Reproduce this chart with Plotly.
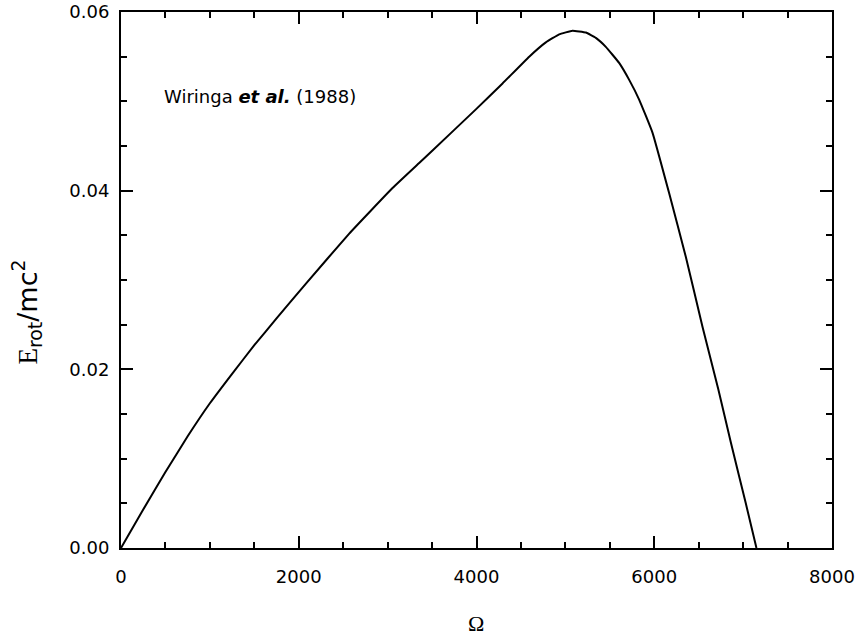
import plotly.graph_objects as go

# Data
omega = [0, 250, 500, 750, 1000, 1250, 1500, 1750, 2081, 2568, 3055, 3355, 3505,
         3993, 4293, 4593, 4780, 4930, 5080, 5231, 5343, 5455, 5605, 5718, 5830,
         5980, 6168, 6355, 6542, 6720, 6862, 7030, 7150]
e_rot = [0.0, 0.0043, 0.0085, 0.0125, 0.0162, 0.0195, 0.0227, 0.0257, 0.0296,
         0.0352, 0.0403, 0.0431, 0.0445, 0.0491, 0.0520, 0.0550, 0.0566, 0.0575,
         0.0579, 0.0577, 0.0571, 0.0561, 0.0543, 0.0524, 0.0502, 0.0465, 0.0397,
         0.0326, 0.0248, 0.0178, 0.0118, 0.0050, 0.0]

x_ticks = [0, 2000, 4000, 6000, 8000]
x_tick_labels = ["0", "2000", "4000", "6000", "8000"]
y_ticks = [0.0, 0.02, 0.04, 0.06]
y_tick_labels = ["0.00", "0.02", "0.04", "0.06"]

fig = go.Figure()
fig.add_trace(go.Scatter(x=omega, y=e_rot, mode="lines",
                         line=dict(color="black", width=2, shape="spline", smoothing=0.3),
                         showlegend=False, hoverinfo="skip"))

tickfont = dict(family="DejaVu Sans", size=18, color="black")
common = dict(showgrid=False, zeroline=False, showline=True, linecolor="black",
              linewidth=2, mirror="allticks", ticks="inside", tickcolor="black",
              tickwidth=2, tickfont=tickfont, automargin=False,
              ticklabeloverflow="allow")

fig.update_xaxes(range=[0, 8000], tickvals=x_ticks, ticktext=x_tick_labels, ticklen=12,
                 minor=dict(dtick=500, ticks="inside", ticklen=6, tickwidth=1.5,
                            tickcolor="black", showgrid=False),
                 ticklabelstandoff=11, **common)
fig.update_yaxes(range=[0, 0.06], tickvals=y_ticks, ticktext=y_tick_labels, ticklen=12,
                 minor=dict(dtick=0.005, ticks="inside", ticklen=6, tickwidth=1.5,
                            tickcolor="black", showgrid=False),
                 ticklabelstandoff=6, **common)

fig.add_annotation(x=0.0577, y=0.843, xref="paper", yref="paper",
                   xanchor="left", yanchor="middle", showarrow=False,
                   text="Wiringa <b><i>et al.</i></b> (1988)",
                   font=dict(family="DejaVu Sans", size=18, color="black"))
fig.add_annotation(x=-0.133, y=0.44, xref="paper", yref="paper",
                   xanchor="center", yanchor="middle", showarrow=False, textangle=-90,
                   text='<span style="font-family:Liberation Serif">E</span><sub>rot</sub>/mc<sup>2</sup>',
                   font=dict(family="DejaVu Sans", size=27, color="black"))
fig.add_annotation(x=0.499, y=-0.14, xref="paper", yref="paper",
                   xanchor="center", yanchor="middle", showarrow=False,
                   text="Ω", font=dict(family="Liberation Serif", size=22, color="black"))

fig.update_layout(width=858, height=640, paper_bgcolor="white", plot_bgcolor="white",
                  margin=dict(l=121, r=26, t=12, b=92, autoexpand=False), showlegend=False)

# remove the default 8px page margin so the figure fills the window exactly
fig.write_html("out.html", config={"displayModeBar": False},
               post_script="document.body.style.margin='0px';document.body.style.overflow='hidden';")
